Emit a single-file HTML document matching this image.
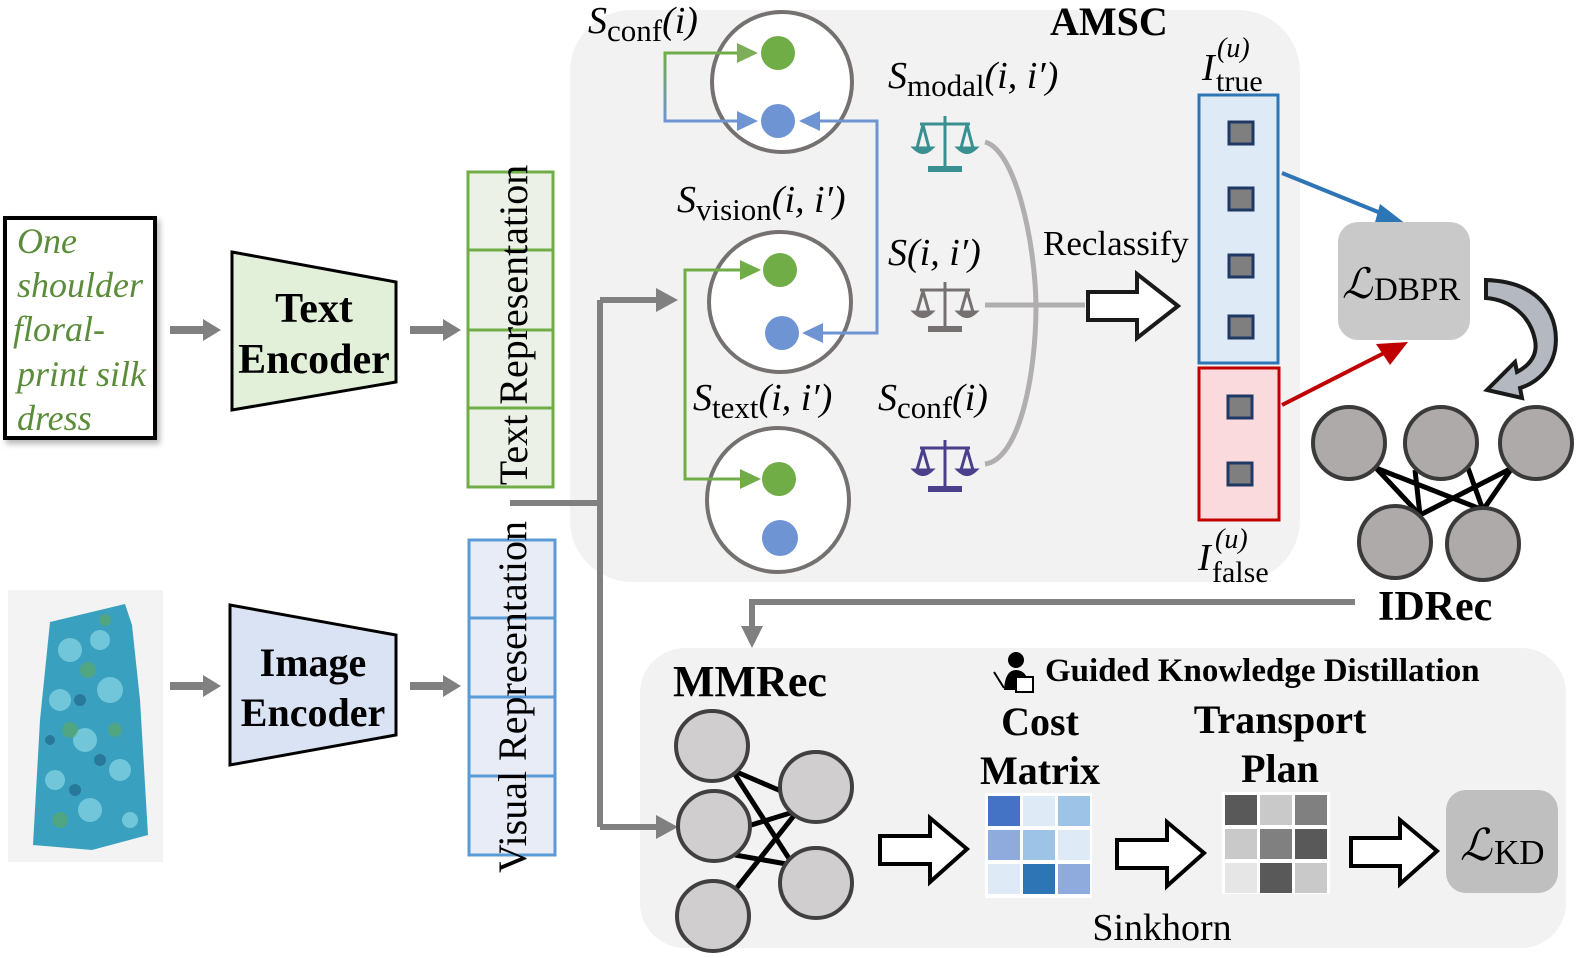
<!DOCTYPE html>
<html><head><meta charset="utf-8"><style>
html,body{margin:0;padding:0;background:#fff;}
svg{display:block;}
.s{font-family:"Liberation Serif",serif;}
</style></head><body>
<svg width="1576" height="958" viewBox="0 0 1576 958" xmlns="http://www.w3.org/2000/svg" class="s">
<defs>
<linearGradient id="gb" x1="0" y1="0" x2="0" y2="1"><stop offset="0" stop-color="#70ad47"/><stop offset="1" stop-color="#6f94d3"/></linearGradient>
<filter id="sh"><feDropShadow dx="3" dy="4" stdDeviation="3" flood-color="#888" flood-opacity="0.6"/></filter>
</defs>

<rect x="570" y="10" width="730" height="572" rx="62" fill="#f2f2f2"/>
<rect x="640" y="648" width="926" height="300" rx="45" fill="#f2f2f2"/>

<rect x="5" y="218" width="150" height="220" fill="#fff" stroke="#000" stroke-width="4" filter="url(#sh)"/>
<g font-style="italic" font-size="36" fill="#5b8c3a">
<text x="17" y="253">One</text><text x="17" y="297">shoulder</text><text x="13" y="341">floral-</text><text x="17" y="386">print silk</text><text x="17" y="430">dress</text></g>

<rect x="8" y="590" width="155" height="272" fill="#f3f3f3"/>
<path d="M50,622 L125,604 L132,625 L140,700 L148,835 L92,850 L33,845 L40,720 Z" fill="#3aa0c0"/>
<g fill="#7fd0e0" opacity="0.8"><circle cx="70" cy="650" r="12"/><circle cx="100" cy="640" r="10"/><circle cx="60" cy="700" r="11"/><circle cx="110" cy="690" r="13"/><circle cx="85" cy="740" r="12"/><circle cx="55" cy="780" r="10"/><circle cx="120" cy="770" r="11"/><circle cx="90" cy="810" r="12"/><circle cx="130" cy="820" r="8"/></g>
<g fill="#5aa86a" opacity="0.7"><circle cx="88" cy="670" r="8"/><circle cx="70" cy="730" r="8"/><circle cx="115" cy="730" r="7"/><circle cx="60" cy="820" r="8"/><circle cx="105" cy="620" r="6"/></g>
<g fill="#1d5f80" opacity="0.6"><circle cx="80" cy="700" r="6"/><circle cx="100" cy="760" r="6"/><circle cx="50" cy="740" r="5"/><circle cx="75" cy="790" r="6"/></g>

<g stroke="#808080" stroke-width="8" fill="none">
<line x1="170" y1="330" x2="205" y2="330"/><line x1="410" y1="330" x2="445" y2="330"/>
<line x1="170" y1="686" x2="205" y2="686"/><line x1="410" y1="686" x2="445" y2="686"/></g>
<g fill="#808080">
<path d="M203,319 L221,330 L203,341z"/><path d="M443,319 L461,330 L443,341z"/>
<path d="M203,675 L221,686 L203,697z"/><path d="M443,675 L461,686 L443,697z"/></g>

<path d="M232,252 L396,282 L396,382 L232,410 Z" fill="#e2efd9" stroke="#000" stroke-width="3"/>
<text x="314" y="322" font-size="42" font-weight="bold" text-anchor="middle">Text</text>
<text x="314" y="373" font-size="42" font-weight="bold" text-anchor="middle">Encoder</text>
<path d="M230,605 L396,635 L396,735 L230,765 Z" fill="#dae3f3" stroke="#000" stroke-width="3"/>
<text x="313" y="676" font-size="40" font-weight="bold" text-anchor="middle">Image</text>
<text x="313" y="726" font-size="40" font-weight="bold" text-anchor="middle">Encoder</text>

<rect x="468" y="172" width="85" height="315" fill="#ebf1e6" stroke="#70ad47" stroke-width="3"/>
<g stroke="#70ad47" stroke-width="3"><line x1="468" y1="250" x2="553" y2="250"/><line x1="468" y1="330" x2="553" y2="330"/><line x1="468" y1="408" x2="553" y2="408"/></g>
<text transform="translate(527,325) rotate(-90)" font-size="40" text-anchor="middle">Text Representation</text>
<rect x="469" y="540" width="86" height="315" fill="#e7ecf6" stroke="#5b9bd5" stroke-width="3"/>
<g stroke="#5b9bd5" stroke-width="3"><line x1="469" y1="618" x2="555" y2="618"/><line x1="469" y1="697" x2="555" y2="697"/><line x1="469" y1="776" x2="555" y2="776"/></g>
<text transform="translate(526,697) rotate(-90)" font-size="40" text-anchor="middle">Visual Representation</text>

<g stroke="#808080" stroke-width="6" fill="none">
<polyline points="510,503 600,503"/><line x1="600" y1="300" x2="600" y2="827"/>
<line x1="600" y1="300" x2="660" y2="300"/><line x1="600" y1="827" x2="660" y2="827"/></g>
<path d="M656,288 L678,300 L656,312z" fill="#808080"/><path d="M656,815 L678,827 L656,839z" fill="#808080"/>

<g fill="#fff" stroke="#767171" stroke-width="4">
<ellipse cx="782" cy="82" rx="70" ry="70"/><ellipse cx="780" cy="302" rx="71" ry="70"/><ellipse cx="778" cy="500" rx="71" ry="72"/></g>
<g fill="#70ad47"><circle cx="778" cy="53" r="17"/><circle cx="780" cy="270" r="17"/><circle cx="779" cy="479" r="17"/></g>
<g fill="#6f94d3"><circle cx="778" cy="121" r="17"/><circle cx="782" cy="333" r="17"/><circle cx="780" cy="538" r="18"/></g>

<path d="M745,53 L665,53 L665,121 L745,121" fill="none" stroke="url(#gb)" stroke-width="3"/>
<path d="M737,43 L758,53 L737,63z" fill="#7fae5a"/><path d="M737,111 L758,121 L737,131z" fill="#6f94d3"/>
<path d="M812,121 L877,121 L877,333 L815,333" fill="none" stroke="#6f94d3" stroke-width="3"/>
<path d="M820,111 L799,121 L820,131z" fill="#6f94d3"/><path d="M823,323 L802,333 L823,343z" fill="#6f94d3"/>
<path d="M745,270 L685,270 L685,479 L745,479" fill="none" stroke="#70ad47" stroke-width="3"/>
<path d="M740,260 L761,270 L740,280z" fill="#70ad47"/><path d="M740,469 L761,479 L740,489z" fill="#70ad47"/>

<!-- scales -->
<g stroke="#3a9090" stroke-width="3" fill="none">
<line x1="945" y1="116" x2="945" y2="168"/><line x1="920" y1="124" x2="970" y2="124"/><line x1="928" y1="169" x2="962" y2="169" stroke-width="6"/>
<path d="M923,125 L917,148 M923,125 L929,148 M967,125 L961,148 M967,125 L973,148"/>
<path d="M914,148 Q923,157 932,148 Z M958,148 Q967,157 976,148 Z" fill="#3a9090"/></g>
<g stroke="#767171" stroke-width="3" fill="none">
<line x1="945" y1="282" x2="945" y2="328"/><line x1="920" y1="290" x2="970" y2="290"/><line x1="928" y1="329" x2="962" y2="329" stroke-width="6"/>
<path d="M923,291 L917,312 M923,291 L929,312 M967,291 L961,312 M967,291 L973,312"/>
<path d="M914,312 Q923,321 932,312 Z M958,312 Q967,321 976,312 Z" fill="#767171"/></g>
<g stroke="#4a3f8a" stroke-width="3" fill="none">
<line x1="945" y1="440" x2="945" y2="488"/><line x1="920" y1="448" x2="970" y2="448"/><line x1="928" y1="489" x2="962" y2="489" stroke-width="6"/>
<path d="M923,449 L917,470 M923,449 L929,470 M967,449 L961,470 M967,449 L973,470"/>
<path d="M914,470 Q923,479 932,470 Z M958,470 Q967,479 976,470 Z" fill="#4a3f8a"/></g>

<path d="M985,142 C1015,150 1035,240 1036,305 C1036,380 1018,460 985,464" fill="none" stroke="#b0aeae" stroke-width="5"/>
<line x1="985" y1="305" x2="1085" y2="305" stroke="#b0aeae" stroke-width="5"/>
<path d="M1088,292 L1137,292 L1137,274 L1178,306 L1137,338 L1137,320 L1088,320 Z" fill="#fff" stroke="#1a1a1a" stroke-width="4"/>

<g font-size="38" font-style="italic">
<text x="588" y="33">S<tspan font-style="normal" font-size="31" dy="8">conf</tspan><tspan dy="-8">(i)</tspan></text>
<text x="888" y="88">S<tspan font-style="normal" font-size="31" dy="8">modal</tspan><tspan dy="-8">(i, i′)</tspan></text>
<text x="677" y="212">S<tspan font-style="normal" font-size="31" dy="8">vision</tspan><tspan dy="-8">(i, i′)</tspan></text>
<text x="888" y="265">S(i, i′)</text>
<text x="693" y="410">S<tspan font-style="normal" font-size="31" dy="8">text</tspan><tspan dy="-8">(i, i′)</tspan></text>
<text x="878" y="410">S<tspan font-style="normal" font-size="31" dy="8">conf</tspan><tspan dy="-8">(i)</tspan></text>
<text x="1202" y="80">I</text><text x="1217" y="57" font-size="28">(u)</text><text x="1216" y="91" font-size="30" font-style="normal">true</text>
<text x="1198" y="570">I</text><text x="1215" y="548" font-size="28">(u)</text><text x="1212" y="582" font-size="30" font-style="normal">false</text>
</g>
<text x="1043" y="255" font-size="35">Reclassify</text>
<text x="1050" y="35" font-size="40" font-weight="bold">AMSC</text>

<rect x="1199" y="95" width="79" height="268" fill="#deebf7" stroke="#2e75b6" stroke-width="3"/>
<rect x="1199" y="368" width="80" height="152" fill="#fadadd" stroke="#c00000" stroke-width="3"/>
<g fill="#7f7f7f" stroke="#1f3864" stroke-width="3">
<rect x="1229" y="122" width="24" height="22"/><rect x="1229" y="188" width="24" height="22"/><rect x="1229" y="255" width="24" height="22"/><rect x="1229" y="316" width="24" height="22"/>
<rect x="1228" y="396" width="24" height="22"/><rect x="1228" y="463" width="24" height="22"/></g>

<line x1="1282" y1="173" x2="1388" y2="216" stroke="#2e75b6" stroke-width="4"/>
<path d="M1380,204 L1406,224 L1374,226z" fill="#2e75b6"/>
<line x1="1282" y1="405" x2="1390" y2="350" stroke="#c00000" stroke-width="4"/>
<path d="M1376,344 L1408,342 L1390,365z" fill="#c00000"/>

<rect x="1338" y="222" width="132" height="118" rx="20" fill="#c9c9c9"/>
<text x="1342" y="298" font-size="42" font-style="italic">ℒ</text><text x="1374" y="300" font-size="33">DBPR</text>
<path d="M1486,280 C1545,282 1560,320 1555,350 C1550,375 1530,385 1520,388 L1522,398 L1487,390 L1515,362 L1517,372 C1530,365 1538,355 1535,340 C1530,315 1510,300 1486,298 Z" fill="#b4b8c0" stroke="#1a1a1a" stroke-width="4"/>

<g stroke="#000" stroke-width="5">
<line x1="1376" y1="468" x2="1420" y2="515"/><line x1="1376" y1="468" x2="1483" y2="510"/>
<line x1="1415" y1="470" x2="1420" y2="515"/><line x1="1468" y1="468" x2="1483" y2="510"/>
<line x1="1512" y1="468" x2="1420" y2="515"/><line x1="1512" y1="468" x2="1483" y2="510"/></g>
<g fill="#aeaaaa" stroke="#3a3a3a" stroke-width="4">
<circle cx="1349" cy="443" r="36"/><circle cx="1441" cy="443" r="36"/><circle cx="1536" cy="443" r="36"/>
<circle cx="1395" cy="542" r="36"/><circle cx="1483" cy="544" r="36"/></g>
<text x="1378" y="620" font-size="42" font-weight="bold">IDRec</text>

<polyline points="1355,602 752,602 752,630" fill="none" stroke="#808080" stroke-width="6"/>
<path d="M741,626 L752,648 L763,626z" fill="#808080"/>

<text x="673" y="696" font-size="44" font-weight="bold">MMRec</text>
<g stroke="#000" stroke-width="5">
<line x1="732" y1="770" x2="795" y2="797"/><line x1="732" y1="770" x2="790" y2="860"/>
<line x1="735" y1="830" x2="800" y2="810"/><line x1="735" y1="855" x2="798" y2="866"/>
<line x1="735" y1="890" x2="800" y2="808"/></g>
<g fill="#d0cece" stroke="#404040" stroke-width="4">
<ellipse cx="712" cy="746" rx="36" ry="35"/><ellipse cx="816" cy="787" rx="36" ry="35"/>
<ellipse cx="714" cy="826" rx="36" ry="35"/><ellipse cx="816" cy="883" rx="36" ry="35"/><ellipse cx="713" cy="916" rx="36" ry="35"/></g>

<g fill="#000"><circle cx="1016" cy="660" r="8"/><path d="M1004,690 Q1005,670 1016,670 Q1028,670 1030,690z"/>
<rect x="1016" y="677" width="17" height="15" fill="#fff" stroke="#000" stroke-width="2"/><line x1="994" y1="672" x2="1004" y2="688" stroke="#000" stroke-width="2"/></g>
<text x="1045" y="681" font-size="33" font-weight="bold">Guided Knowledge Distillation</text>
<text x="1040" y="735" font-size="40" font-weight="bold" text-anchor="middle">Cost</text>
<text x="1040" y="784" font-size="40" font-weight="bold" text-anchor="middle">Matrix</text>
<text x="1280" y="733" font-size="40" font-weight="bold" text-anchor="middle">Transport</text>
<text x="1280" y="782" font-size="40" font-weight="bold" text-anchor="middle">Plan</text>

<g fill="#fff" stroke="#000" stroke-width="4">
<path d="M880,836 L930,836 L930,818 L967,849 L930,882 L930,864 L880,864 Z"/>
<path d="M1117,840 L1167,840 L1167,822 L1204,853 L1167,886 L1167,868 L1117,868 Z"/>
<path d="M1351,838 L1400,838 L1400,820 L1437,851 L1400,884 L1400,866 L1351,866 Z"/></g>

<rect x="985" y="793" width="107" height="105" fill="#fff"/>
<rect x="988" y="796" width="32" height="30" fill="#4472c4"/><rect x="1023" y="796" width="32" height="30" fill="#deebf7"/><rect x="1058" y="796" width="32" height="30" fill="#9dc3e6"/>
<rect x="988" y="830" width="32" height="30" fill="#8faadc"/><rect x="1023" y="830" width="32" height="30" fill="#9dc3e6"/><rect x="1058" y="830" width="32" height="30" fill="#deebf7"/>
<rect x="988" y="864" width="32" height="30" fill="#deebf7"/><rect x="1023" y="864" width="32" height="30" fill="#2e75b6"/><rect x="1058" y="864" width="32" height="30" fill="#8faadc"/>

<rect x="1222" y="792" width="108" height="102" fill="#fff"/>
<rect x="1225" y="795" width="32" height="30" fill="#595959"/><rect x="1260" y="795" width="32" height="30" fill="#c9c9c9"/><rect x="1295" y="795" width="32" height="30" fill="#808080"/>
<rect x="1225" y="829" width="32" height="30" fill="#c9c9c9"/><rect x="1260" y="829" width="32" height="30" fill="#808080"/><rect x="1295" y="829" width="32" height="30" fill="#595959"/>
<rect x="1225" y="863" width="32" height="30" fill="#e7e6e6"/><rect x="1260" y="863" width="32" height="30" fill="#595959"/><rect x="1295" y="863" width="32" height="30" fill="#c9c9c9"/>

<rect x="1446" y="790" width="112" height="103" rx="20" fill="#bfbfbf"/>
<text x="1460" y="860" font-size="44" font-style="italic">ℒ</text><text x="1494" y="864" font-size="35">KD</text>
<text x="1162" y="940" font-size="38" text-anchor="middle">Sinkhorn</text>
</svg>
</body></html>
